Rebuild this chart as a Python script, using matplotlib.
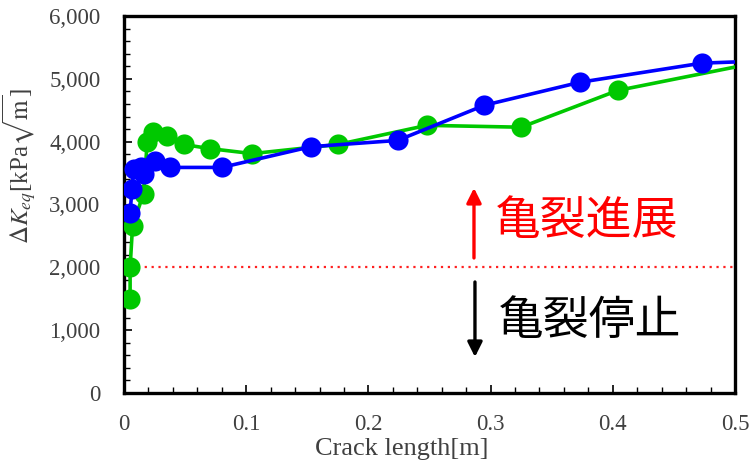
import matplotlib
matplotlib.use("Agg")
import matplotlib.pyplot as plt
from matplotlib.ticker import MultipleLocator, FuncFormatter

plt.rcParams["font.family"] = ["Liberation Serif", "DejaVu Serif"]
plt.rcParams["mathtext.fontset"] = "stix"

# Crack length [m] and equivalent stress intensity range [kPa*sqrt(m)]
green_x = [0.005, 0.005, 0.007, 0.016, 0.019, 0.024, 0.035, 0.049, 0.070, 0.105,
           0.175, 0.248, 0.325, 0.404, 0.560]
green_y = [1500, 2000, 2660, 3175, 4000, 4150, 4085, 3955, 3890, 3810,
           3955, 4260, 4230, 4815, 5420]

blue_x = [0.005, 0.0065, 0.008, 0.016, 0.014, 0.025, 0.038, 0.080, 0.153,
          0.224, 0.295, 0.373, 0.473, 0.560]
blue_y = [2870, 3240, 3560, 3480, 3600, 3690, 3590, 3590, 3920,
          4020, 4580, 4945, 5250, 5310]

threshold = 2000
x_ticks = [0, 0.1, 0.2, 0.3, 0.4, 0.5]
y_ticks = [0, 1000, 2000, 3000, 4000, 5000, 6000]
label_grow = "亀裂進展"
label_stop = "亀裂停止"

fig = plt.figure(figsize=(7.51, 4.63), dpi=100)
ax = fig.add_axes([124 / 751, 70 / 463, 611 / 751, 377 / 463])

ax.plot(green_x, green_y, color="#00c800", lw=2.6, marker="o", ms=14.5,
        mec="none", zorder=3)
ax.plot(blue_x, blue_y, color="#0000ff", lw=2.6, marker="o", ms=14.5,
        mec="none", zorder=4)
ax.plot([0, 0.5], [threshold, threshold], color="#ff2020", lw=1.6,
        dashes=(1, 2.1), zorder=2)

ax.set_xlim(0, 0.5)
ax.set_ylim(0, 6000)
ax.set_xticks(x_ticks)
ax.set_yticks(y_ticks)
ax.xaxis.set_minor_locator(MultipleLocator(0.02))
ax.yaxis.set_minor_locator(MultipleLocator(200))
ax.xaxis.set_major_formatter(FuncFormatter(lambda v, p: "0" if v == 0 else f"{v:.1f}"))
ax.yaxis.set_major_formatter(FuncFormatter(lambda v, p: f"{v:,.0f}"))

ax.tick_params(axis="both", which="both", direction="in", top=False, right=False,
               color="black")
ax.tick_params(axis="both", which="major", length=6, width=1.2, labelsize=16.5,
               labelcolor="#404040")
ax.tick_params(axis="both", which="minor", length=4, width=1.0)
ax.tick_params(axis="y", which="major", pad=17)
ax.tick_params(axis="x", which="major", pad=15)
for sp in ax.spines.values():
    sp.set_linewidth(2.4)
    sp.set_color("black")

ax.set_xlabel("Crack length[m]", fontsize=19, color="#404040")
ax.set_ylabel(r"$\Delta K_{eq}$[kPa$\sqrt{\mathrm{m}}$]", fontsize=18, color="#404040")
ax.xaxis.set_label_coords(0.454, -0.120)
ax.yaxis.set_label_coords(-0.139, 0.602)

ax.annotate("", xy=(0.2864, 3263), xytext=(0.2864, 2149),
            arrowprops=dict(arrowstyle="-|>", color="red", lw=2.4,
                            mutation_scale=22, shrinkA=0, shrinkB=0))
ax.annotate("", xy=(0.2872, 573), xytext=(0.2872, 1767),
            arrowprops=dict(arrowstyle="-|>", color="black", lw=2.4,
                            mutation_scale=22, shrinkA=0, shrinkB=0))
ax.text(0.379, 2738, label_grow, color="red", fontsize=33, ha="center",
        va="center", family=["Noto Sans CJK JP", "DejaVu Sans"])
ax.text(0.381, 1146, label_stop, color="black", fontsize=33, ha="center",
        va="center", family=["Noto Sans CJK JP", "DejaVu Sans"])

fig.savefig("out.png", dpi=100)
